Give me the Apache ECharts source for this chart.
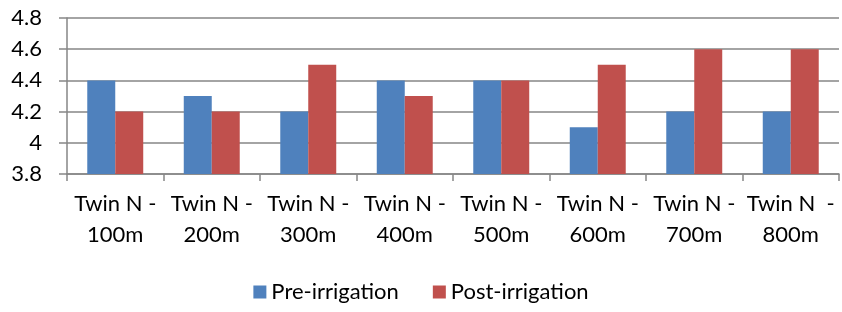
<!DOCTYPE html>
<html>
<head>
<meta charset="utf-8">
<script src="https://cdn.jsdelivr.net/npm/echarts@6/dist/echarts.min.js"></script>
<style>
  html, body { margin: 0; padding: 0; background: #fff; }
  #main { width: 842px; height: 312px; }
</style>
</head>
<body>
<div id="main"></div>
<script>
// 类目和数据
const categories = ['Twin N -\n100m', 'Twin N -\n200m', 'Twin N -\n300m', 'Twin N -\n400m',
  'Twin N -\n500m', 'Twin N -\n600m', 'Twin N -\n700m', 'Twin N  -\n800m'];
const preIrrigation = [4.4, 4.3, 4.2, 4.4, 4.4, 4.1, 4.2, 4.2];
const postIrrigation = [4.2, 4.2, 4.5, 4.3, 4.4, 4.5, 4.6, 4.6];
const seriesNames = ['Pre-irrigation', 'Post-irrigation'];

const chart = echarts.init(document.getElementById('main'));
const font = 'Lato, "Open Sans", sans-serif';

const option = {
  animation: false,
  color: ['#4F81BD', '#C0504D'],
  textStyle: { fontFamily: font },
  grid: { left: 67, right: 3, top: 18, bottom: 138 },
  legend: {
    bottom: 4,
    left: 'center',
    itemWidth: 13,
    itemHeight: 13,
    itemGap: 34,
    icon: 'rect',
    textStyle: { fontSize: 22, color: '#000', fontFamily: font },
    data: seriesNames
  },
  xAxis: {
    type: 'category',
    data: categories,
    axisLine: { lineStyle: { color: '#868686', width: 1.5 } },
    axisTick: { show: true, length: 7, lineStyle: { color: '#868686', width: 1.5 } },
    axisLabel: { fontSize: 22, color: '#000', lineHeight: 31, margin: 14, interval: 0, fontFamily: font }
  },
  yAxis: {
    type: 'value',
    min: 3.8,
    max: 4.8,
    interval: 0.2,
    axisLine: { show: true, lineStyle: { color: '#868686', width: 1.5 } },
    axisTick: { show: true, length: 8, lineStyle: { color: '#868686', width: 1.5 } },
    splitLine: { lineStyle: { color: '#868686', width: 1.5 } },
    axisLabel: {
      fontSize: 22, color: '#000', margin: 25, fontFamily: font,
      formatter: v => String(Math.round(v * 10) / 10)
    }
  },
  series: [
    {
      name: seriesNames[0], type: 'bar', data: preIrrigation,
      barGap: '0%', barCategoryGap: '42%'
    },
    {
      name: seriesNames[1], type: 'bar', data: postIrrigation,
      barGap: '0%', barCategoryGap: '42%'
    }
  ]
};
chart.setOption(option);
</script>
</body>
</html>
